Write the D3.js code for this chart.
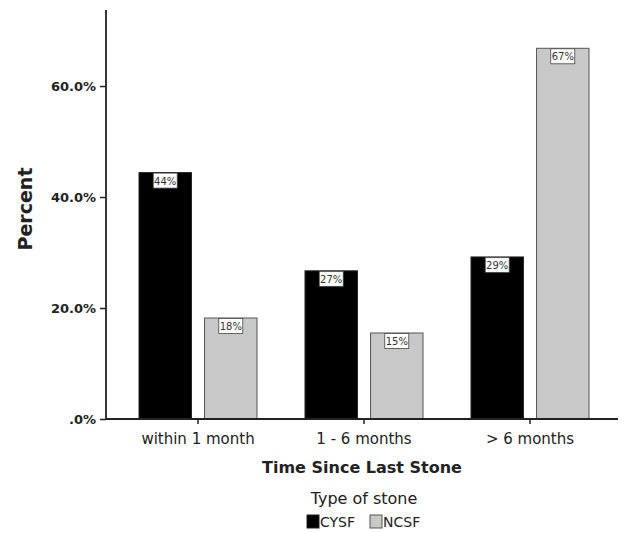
<!DOCTYPE html>
<html><head><meta charset="utf-8">
<script src="https://cdn.jsdelivr.net/npm/d3@7/dist/d3.min.js"></script>
<style>body{margin:0;background:#fff}svg{display:block}text{font-family:"DejaVu Sans",Verdana,sans-serif}</style>
</head><body><svg id="c" width="637" height="533"></svg>
<script>
const categories = ["within 1 month", "1 - 6 months", "> 6 months"];
const seriesNames = ["CYSF", "NCSF"];
const cysf = [44.4, 26.7, 29.2];
const ncsf = [18.2, 15.5, 66.8];
const valueLabels = [["44%", "27%", "29%"], ["18%", "15%", "67%"]];
const yTicks = [0, 20, 40, 60];
const yTickLabels = [".0%", "20.0%", "40.0%", "60.0%"];
const colors = ["#000000", "#c8c8c8"];
const strokes = ["#222222", "#555555"];

const svg = d3.select("#c");
const x0 = 106, x1 = 618, yBase = 419, yTop = 10;
const y = d3.scaleLinear().domain([0, 73.7]).range([yBase, yTop]);
const x = d3.scaleBand().domain(categories).range([115, 613]).paddingInner(0).paddingOuter(0);
const xs = d3.scaleBand().domain(seriesNames).range([x.bandwidth()/2 - 59, x.bandwidth()/2 + 59]).paddingInner(0.2).paddingOuter(0);

const series = [cysf, ncsf];
const data = [];
series.forEach((vals, si) => vals.forEach((v, ci) => data.push({si, ci, v, lab: valueLabels[si][ci]})));

const g = svg.append("g");
g.selectAll("rect.bar").data(data).join("rect")
  .attr("x", d => x(categories[d.ci]) + xs(seriesNames[d.si]))
  .attr("y", d => y(d.v))
  .attr("width", xs.bandwidth())
  .attr("height", d => yBase - y(d.v))
  .attr("fill", d => colors[d.si])
  .attr("stroke", d => strokes[d.si])
  .attr("stroke-width", 1);

const lg = g.selectAll("g.lab").data(data).join("g")
  .attr("transform", d => `translate(${x(categories[d.ci]) + xs(seriesNames[d.si]) + xs.bandwidth()/2},${y(d.v)})`);
lg.append("rect").attr("x", -12).attr("y", 0.5).attr("width", 24).attr("height", 15)
  .attr("fill", "#fff").attr("stroke", "#444").attr("stroke-width", 0.8);
lg.append("text").attr("x", 0).attr("y", 12).attr("text-anchor", "middle")
  .attr("font-size", 10).attr("fill", "#333").text(d => d.lab);

const ya = svg.append("g").attr("transform", `translate(${x0},0)`)
  .call(d3.axisLeft(y).tickValues(yTicks).tickFormat((d, i) => yTickLabels[i]).tickSize(6).tickPadding(4));
ya.select(".domain").remove();
ya.selectAll(".tick line").attr("stroke", "#222").attr("stroke-width", 1.5);
ya.selectAll(".tick text").attr("font-size", 13).attr("font-weight", "bold").attr("fill", "#222")
  .style("font-family", '"DejaVu Sans",Verdana,sans-serif');
svg.append("line").attr("x1", x0).attr("x2", x0).attr("y1", yTop).attr("y2", yBase + 1)
  .attr("stroke", "#222").attr("stroke-width", 1.8);

const xa = svg.append("g").attr("transform", `translate(0,${yBase})`)
  .call(d3.axisBottom(x).tickSize(5).tickPadding(9));
xa.select(".domain").remove();
xa.selectAll(".tick line").attr("stroke", "#222").attr("stroke-width", 1.5);
xa.selectAll(".tick text").attr("font-size", 15).attr("fill", "#222")
  .style("font-family", '"DejaVu Sans",Verdana,sans-serif');
svg.append("line").attr("x1", x0 - 1).attr("x2", x1).attr("y1", yBase).attr("y2", yBase)
  .attr("stroke", "#222").attr("stroke-width", 1.8);

svg.append("text").attr("x", 362).attr("y", 473).attr("text-anchor", "middle")
  .attr("font-size", 16).attr("font-weight", "bold").attr("fill", "#222").text("Time Since Last Stone");
svg.append("text").attr("transform", "translate(32,209) rotate(-90)").attr("text-anchor", "middle")
  .attr("font-size", 19).attr("font-weight", "bold").attr("fill", "#222").text("Percent");

svg.append("text").attr("x", 364).attr("y", 504).attr("text-anchor", "middle")
  .attr("font-size", 16).attr("fill", "#222").text("Type of stone");
const legX = [307, 370];
const leg = svg.selectAll("g.leg").data(seriesNames).join("g")
  .attr("transform", (d, i) => `translate(${legX[i]},515)`);
leg.append("rect").attr("width", 12).attr("height", 13)
  .attr("fill", (d, i) => colors[i]).attr("stroke", (d, i) => strokes[i]);
leg.append("text").attr("x", 13).attr("y", 12).attr("font-size", 14).attr("fill", "#222").text(d => d);
</script></body></html>
